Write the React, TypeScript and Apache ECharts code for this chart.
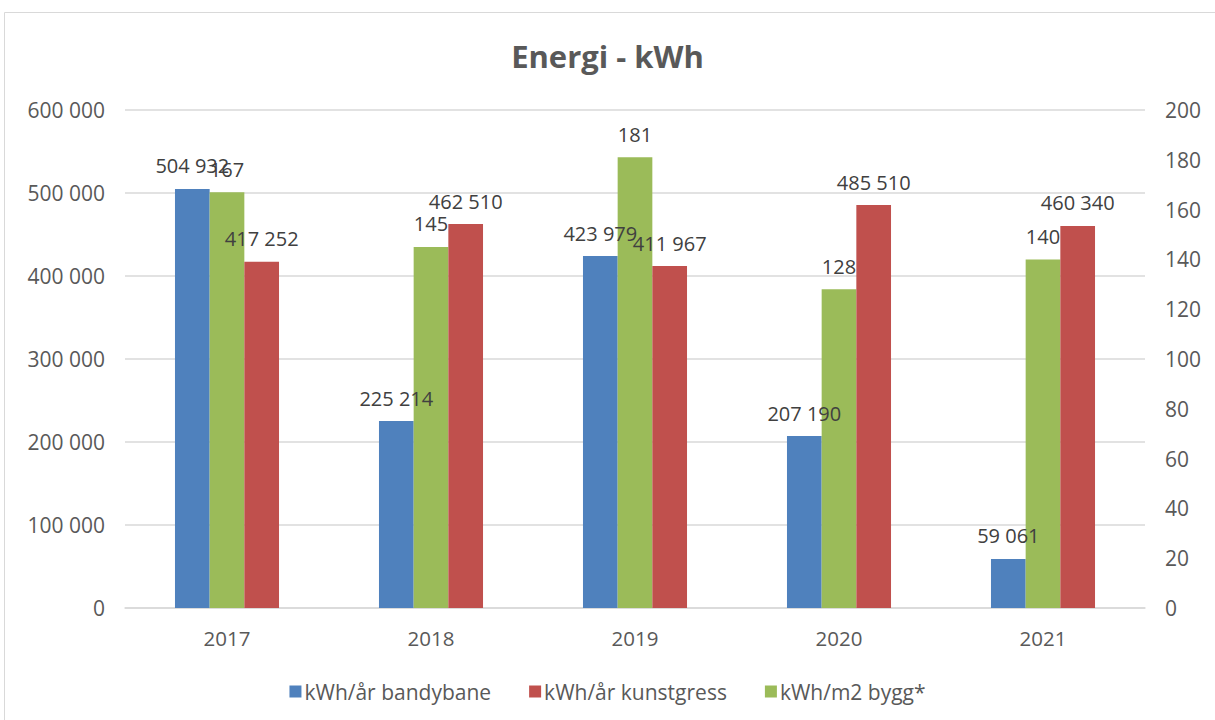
import React, { useEffect, useRef } from "react";
import * as echarts from "echarts";

const years = ["2017", "2018", "2019", "2020", "2021"];
const bandybane = [504932, 225214, 423979, 207190, 59061];
const kunstgress = [417252, 462510, 411967, 485510, 460340];
const bygg = [167, 145, 181, 128, 140];

const FONT = "'Open Sans', sans-serif";
const fmt = (v: number) => String(Math.round(v)).replace(/\B(?=(\d{3})+(?!\d))/g, " ");

export default function App() {
  const ref = useRef<HTMLDivElement>(null);
  useEffect(() => {
    const chart = echarts.init(ref.current!, undefined, { renderer: "svg" });
    const label = {
      show: true,
      position: "top",
      distance: 13,
      fontSize: 20,
      fontFamily: FONT,
      color: "#404040",
      formatter: (p: any) => fmt(p.value),
    };
    chart.setOption({
      animation: false,
      backgroundColor: "#fff",
      textStyle: { fontFamily: FONT },
      title: {
        text: "Energi - kWh",
        left: "center",
        top: 35,
        textStyle: { fontSize: 31, fontWeight: "bold", color: "#595959", fontFamily: FONT },
      },
      graphic: [
        {
          type: "rect",
          shape: { x: 4.5, y: 12.5, width: 1240, height: 740 },
          style: { fill: "none", stroke: "#D9D9D9", lineWidth: 1 },
          silent: true,
        },
      ],
      legend: {
        data: ["kWh/år bandybane", "kWh/år kunstgress", "kWh/m2 bygg*"],
        bottom: 13,
        left: "center",
        itemWidth: 12,
        itemHeight: 12,
        itemGap: 38,
        icon: "rect",
        textStyle: { fontSize: 21, color: "#595959", fontFamily: FONT, padding: [0, 0, 0, -2] },
      },
      grid: { left: 125, right: 70, top: 110, bottom: 112 },
      xAxis: {
        type: "category",
        data: years,
        axisLine: { lineStyle: { color: "#D9D9D9", width: 1.5 } },
        axisTick: { show: false },
        axisLabel: { fontSize: 20.5, color: "#595959", margin: 19, fontFamily: FONT },
      },
      yAxis: [
        {
          type: "value",
          min: 0,
          max: 600000,
          interval: 100000,
          axisLine: { show: false },
          axisTick: { show: false },
          splitLine: { lineStyle: { color: "#D9D9D9", width: 1.5 } },
          axisLabel: { fontSize: 21, color: "#595959", margin: 20, fontFamily: FONT, formatter: (v: number) => fmt(v) },
        },
        {
          type: "value",
          min: 0,
          max: 200,
          interval: 20,
          axisLine: { show: false },
          axisTick: { show: false },
          splitLine: { show: false },
          axisLabel: { fontSize: 21, color: "#595959", margin: 20, fontFamily: FONT },
        },
      ],
      series: [
        {
          name: "kWh/år bandybane",
          type: "bar",
          yAxisIndex: 0,
          data: bandybane,
          itemStyle: { color: "#4F81BD" },
          barGap: "0%",
          barCategoryGap: "49%",
          label,
        },
        {
          name: "kWh/m2 bygg*",
          type: "bar",
          yAxisIndex: 1,
          data: bygg,
          itemStyle: { color: "#9BBB59" },
          barGap: "0%",
          barCategoryGap: "49%",
          label,
        },
        {
          name: "kWh/år kunstgress",
          type: "bar",
          yAxisIndex: 0,
          data: kunstgress,
          itemStyle: { color: "#C0504D" },
          barGap: "0%",
          barCategoryGap: "49%",
          label,
        },
      ],
    });
    return () => chart.dispose();
  }, []);
  return <div ref={ref} style={{ position: "fixed", left: 0, top: 0, width: 1215, height: 720 }} />;
}
